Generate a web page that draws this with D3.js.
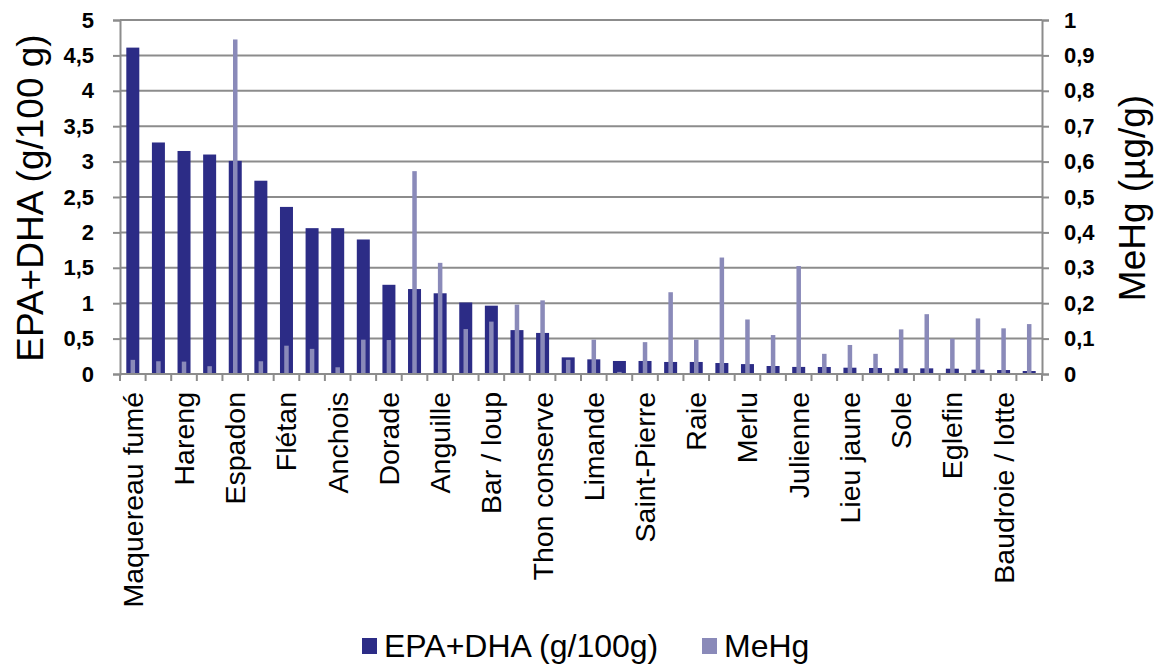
<!DOCTYPE html>
<html>
<head>
<meta charset="utf-8">
<script src="https://cdn.jsdelivr.net/npm/d3@7"></script>
<style>
  html, body { margin: 0; padding: 0; background: #fff; }
  svg { display: block; font-family: "Liberation Sans", Arial, sans-serif; }
</style>
</head>
<body>
<svg id="chart" width="1157" height="666"></svg>
<script>
// Fish species, sorted by EPA+DHA content; only every other name fits under the axis
const categories = [
  "Maquereau fumé", "", "Hareng", "", "Espadon", "", "Flétan", "", "Anchois", "",
  "Dorade", "", "Anguille", "", "Bar / loup", "", "Thon conserve", "", "Limande", "",
  "Saint-Pierre", "", "Raie", "", "Merlu", "", "Julienne", "", "Lieu jaune", "",
  "Sole", "", "Eglefin", "", "Baudroie / lotte", ""
];
// EPA+DHA, g/100 g
const epaDha = [
  4.61, 3.27, 3.15, 3.10, 3.01, 2.73, 2.36, 2.06, 2.06, 1.90,
  1.26, 1.20, 1.14, 1.01, 0.965, 0.62, 0.58, 0.235, 0.207, 0.184,
  0.184, 0.17, 0.17, 0.155, 0.14, 0.113, 0.10, 0.099, 0.089, 0.085,
  0.08, 0.08, 0.075, 0.061, 0.056, 0.042
];
// Methylmercury, µg/g
const meHg = [
  0.040, 0.036, 0.035, 0.022, 0.945, 0.036, 0.080, 0.071, 0.019, 0.097,
  0.096, 0.573, 0.314, 0.127, 0.148, 0.196, 0.208, 0.040, 0.097, 0.006,
  0.090, 0.231, 0.097, 0.329, 0.154, 0.110, 0.305, 0.057, 0.082, 0.057,
  0.126, 0.169, 0.100, 0.157, 0.129, 0.141
];
const leftTicks = [0, 0.5, 1, 1.5, 2, 2.5, 3, 3.5, 4, 4.5, 5];
const rightTicks = [0, 0.1, 0.2, 0.3, 0.4, 0.5, 0.6, 0.7, 0.8, 0.9, 1];
const seriesNames = ["EPA+DHA (g/100g)", "MeHg"];
const colors = ["#2c2c86", "#8a8ab9"];

const svg = d3.select("#chart");
const plot = { left: 120, right: 1042, top: 20, bottom: 374 };

const x = d3.scaleBand()
  .domain(d3.range(categories.length))
  .range([plot.left, plot.right])
  .paddingInner(0).paddingOuter(0);
const yL = d3.scaleLinear().domain([0, 5]).range([plot.bottom, plot.top]);
const yR = d3.scaleLinear().domain([0, 1]).range([plot.bottom, plot.top]);

const fmt = d => String(d).replace(".", ",");
const gridColor = "#8c8c8c";

// Horizontal gridlines
svg.append("g")
  .selectAll("line")
  .data(leftTicks.filter(d => d > 0))
  .join("line")
  .attr("x1", plot.left).attr("x2", plot.right)
  .attr("y1", d => yL(d)).attr("y2", d => yL(d))
  .attr("stroke", gridColor).attr("stroke-width", 2);

// EPA+DHA bars
const bw = 13;
svg.append("g")
  .selectAll("rect")
  .data(epaDha)
  .join("rect")
  .attr("x", (d, i) => x(i) + x.bandwidth() / 2 - bw / 2)
  .attr("width", bw)
  .attr("y", d => yL(d))
  .attr("height", d => yL(0) - yL(d))
  .attr("fill", colors[0]);

// MeHg bars, drawn thin over the EPA+DHA bars
const mw = 4.5;
svg.append("g")
  .selectAll("rect")
  .data(meHg)
  .join("rect")
  .attr("x", (d, i) => x(i) + x.bandwidth() / 2 - mw / 2)
  .attr("width", mw)
  .attr("y", d => yR(d))
  .attr("height", d => yR(0) - yR(d))
  .attr("fill", colors[1]);

// Left axis
const axL = svg.append("g")
  .attr("transform", `translate(${plot.left},0)`)
  .call(d3.axisLeft(yL).tickValues(leftTicks).tickFormat(fmt).tickSize(7).tickPadding(19));
// Right axis
const axR = svg.append("g")
  .attr("transform", `translate(${plot.right},0)`)
  .call(d3.axisRight(yR).tickValues(rightTicks).tickFormat(fmt).tickSize(7).tickPadding(15));
[axL, axR].forEach(ax => {
  ax.select(".domain").attr("stroke", gridColor).attr("stroke-width", 2);
  ax.selectAll(".tick line").attr("stroke", gridColor).attr("stroke-width", 2);
  ax.selectAll(".tick text")
    .attr("fill", "#000")
    .style("font-size", "22px")
    .style("font-weight", "bold");
});

// Category axis: tick marks at band edges
const edges = d3.range(categories.length + 1).map(i => plot.left + i * x.step());
svg.append("line")
  .attr("x1", plot.left).attr("x2", plot.right)
  .attr("y1", plot.bottom).attr("y2", plot.bottom)
  .attr("stroke", gridColor).attr("stroke-width", 2);
svg.append("g")
  .selectAll("line")
  .data(edges)
  .join("line")
  .attr("x1", d => d).attr("x2", d => d)
  .attr("y1", plot.bottom).attr("y2", plot.bottom + 7)
  .attr("stroke", gridColor).attr("stroke-width", 2);

svg.append("g")
  .selectAll("text")
  .data(categories.map((c, i) => ({ c, i })).filter(d => d.c))
  .join("text")
  .attr("transform", d => `translate(${x(d.i) + x.bandwidth() / 2 + 10},${plot.bottom + 18}) rotate(-90)`)
  .attr("text-anchor", "end")
  .style("font-size", "28.5px")
  .text(d => d.c);

// Axis titles
svg.append("text")
  .attr("transform", `translate(43,${(plot.top + plot.bottom) / 2 + 1}) rotate(-90)`)
  .attr("text-anchor", "middle")
  .style("font-size", "37px")
  .text("EPA+DHA (g/100 g)");
svg.append("text")
  .attr("transform", `translate(1145,198) rotate(-90)`)
  .attr("text-anchor", "middle")
  .style("font-size", "37px")
  .text("MeHg (µg/g)");

// Legend
const legend = [
  { name: seriesNames[0], color: colors[0], x: 362 },
  { name: seriesNames[1], color: colors[1], x: 702 }
];
const lg = svg.append("g").selectAll("g").data(legend).join("g")
  .attr("transform", d => `translate(${d.x},638)`);
lg.append("rect").attr("width", 15).attr("height", 16).attr("fill", d => d.color);
lg.append("text")
  .attr("x", 22).attr("y", 19)
  .style("font-size", "32px")
  .text(d => d.name);
</script>
</body>
</html>
